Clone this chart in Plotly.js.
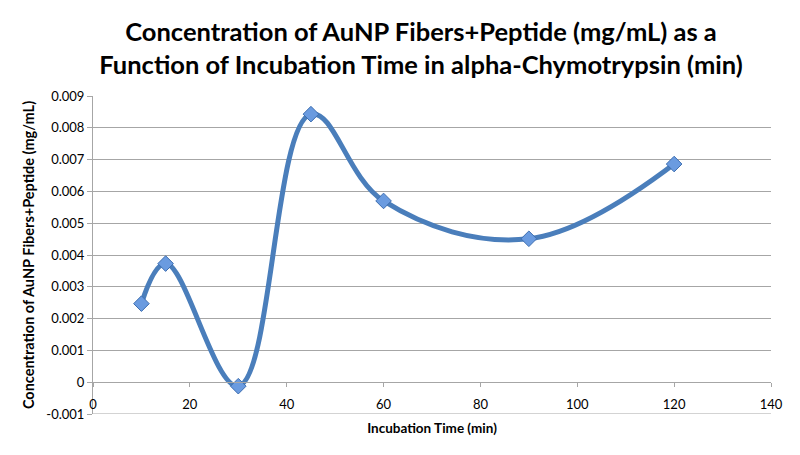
<!DOCTYPE html>
<html>
<head>
<meta charset="utf-8">
<script src="https://cdn.plot.ly/plotly-3.0.1.min.js"></script>
<style>
  html, body { margin: 0; padding: 0; background: #fff; }
  #chart { width: 800px; height: 455px; }
</style>
</head>
<body>
<div id="chart"></div>
<script>
// temps d'incubation (min) et concentration (mg/mL)
const incubationTime = [10, 15, 30, 45, 60, 90, 120];
const concentration = [0.00247, 0.00373, -0.000125, 0.00843, 0.0057, 0.00451, 0.00686];

const xTicks = [0, 20, 40, 60, 80, 100, 120, 140];
const yTicks = [-0.001, 0, 0.001, 0.002, 0.003, 0.004, 0.005, 0.006, 0.007, 0.008, 0.009];
const yTickText = ['-0.001', '0', '0.001', '0.002', '0.003', '0.004', '0.005', '0.006', '0.007', '0.008', '0.009'];

const font = 'Lato, "Open Sans", sans-serif';
const gris = '#a6a6a6';

var data = [{
    x: incubationTime,
    y: concentration,
    mode: 'lines+markers',
    line: { shape: 'spline', smoothing: 1.1, color: '#4a7ebb', width: 5 },
    marker: {
        symbol: 'diamond',
        size: 12,
        color: '#6a9be0',
        line: { color: '#3d6eb0', width: 1 },
    },
    hoverinfo: 'x+y',
    showlegend: false,
}];

var layout = {
    width: 800,
    height: 455,
    paper_bgcolor: '#fff',
    plot_bgcolor: '#fff',
    margin: { l: 93, r: 29, t: 96, b: 41, pad: 0 },
    title: {
        text: '<b>Concentration of AuNP Fibers+Peptide (mg/mL) as a<br>Function of Incubation Time in alpha-Chymotrypsin (min)</b>',
        font: { family: font, size: 25.5, color: '#000' },
        x: 421 / 800,
        xanchor: 'center',
        xref: 'container',
        y: 1 - 41 / 455,
        yanchor: 'middle',
        yref: 'container',
    },
    // la grille du bas (-0.001) n'est pas tracée par plotly au bord de l'axe
    shapes: [{
        type: 'line',
        xref: 'paper', x0: 0, x1: 1,
        yref: 'y', y0: -0.001, y1: -0.001,
        line: { color: gris, width: 1 },
    }],
    xaxis: {
        range: [0, 140],
        tickvals: xTicks,
        ticktext: xTicks.map(String),
        anchor: 'free',
        position: 0.1,
        showgrid: false,
        zeroline: false,
        showline: true,
        linecolor: gris,
        linewidth: 1,
        ticks: 'outside',
        ticklen: 4,
        tickcolor: gris,
        ticklabelstandoff: 6,
        tickfont: { family: font, size: 13, color: '#000' },
        title: {
            text: '<b>Incubation Time (min)</b>',
            font: { family: font, size: 13.5, color: '#000' },
            standoff: 12,
        },
        fixedrange: true,
    },
    yaxis: {
        range: [-0.001, 0.009],
        tickvals: yTicks,
        ticktext: yTickText,
        showgrid: true,
        gridcolor: gris,
        gridwidth: 1,
        zeroline: false,
        showline: true,
        linecolor: gris,
        linewidth: 1,
        ticks: 'outside',
        ticklen: 5,
        tickcolor: gris,
        tickfont: { family: font, size: 13, color: '#000' },
        title: {
            text: '<b>Concentration of AuNP Fibers+Peptide (mg/mL)</b>',
            font: { family: font, size: 14.5, color: '#000' },
            standoff: 8,
        },
        fixedrange: true,
    },
};

Plotly.newPlot('chart', data, layout, { displayModeBar: false, staticPlot: true });
</script>
</body>
</html>
